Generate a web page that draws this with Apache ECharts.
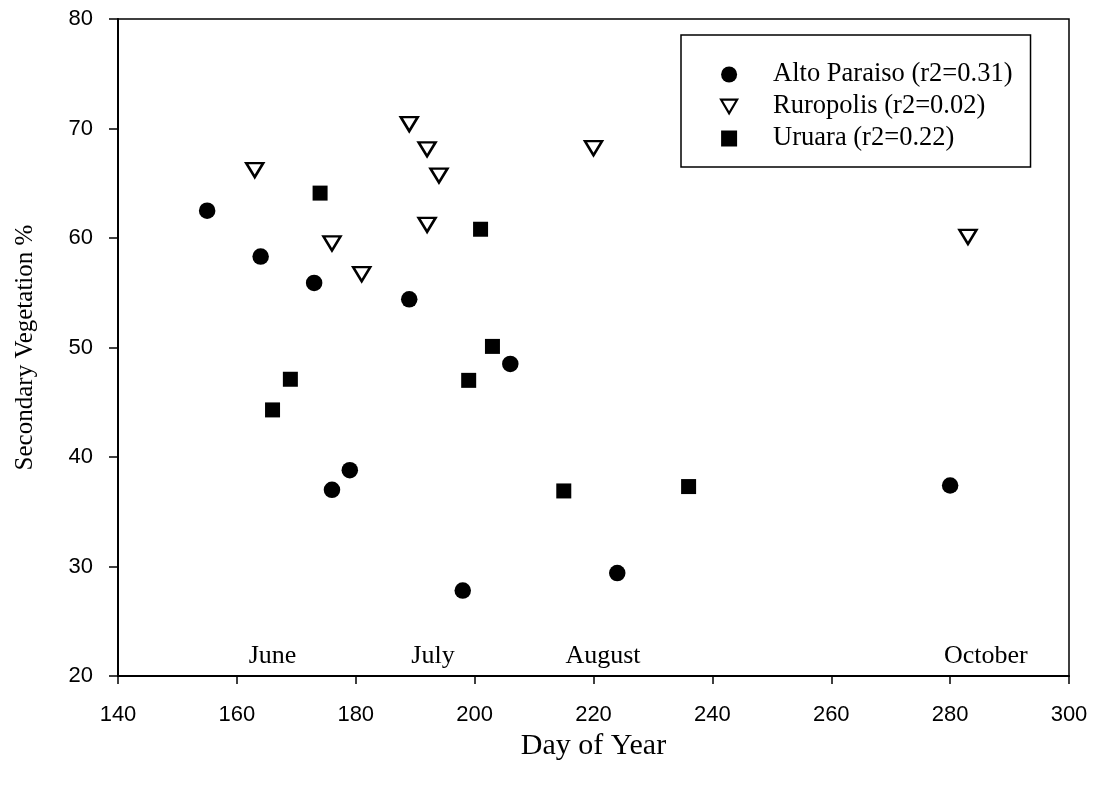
<!DOCTYPE html>
<html>
<head>
<meta charset="utf-8">
<script src="https://cdn.jsdelivr.net/npm/echarts@6/dist/echarts.min.js"></script>
<style>
html,body{margin:0;padding:0;background:#fff;}
#chart{width:1094px;height:788px;}
</style>
</head>
<body>
<div id="chart"></div>
<script>
// ---- data ----
var seriesNames = ['Alto Paraiso (r2=0.31)', 'Ruropolis (r2=0.02)', 'Uruara (r2=0.22)'];
var altoParaiso = [
  [155, 62.5], [164, 58.3], [173, 55.9], [176, 37.0], [179, 38.8],
  [189, 54.4], [198, 27.8], [206, 48.5], [224, 29.4], [280, 37.4]
];
var ruropolis = [
  [163, 66.2], [176, 59.5], [181, 56.7], [189, 70.4], [192, 68.1],
  [194, 65.7], [192, 61.2], [220, 68.2], [283, 60.1]
];
var uruara = [
  [166, 44.3], [169, 47.1], [174, 64.1], [199, 47.0], [201, 60.8],
  [203, 50.1], [215, 36.9], [236, 37.3]
];
var monthNames = ['June', 'July', 'August', 'October'];
var monthDays = [166, 193, 221.6, 286];
var monthLabelY = [21.8, 21.8, 21.8, 21.8];
var xTicks = {min: 140, max: 300, interval: 20};
var yTicks = {min: 20, max: 80, interval: 10};

var serif = '"Liberation Serif", "Times New Roman", serif';
var sans = '"Liberation Sans", Arial, sans-serif';

var monthData = monthNames.map(function (n, i) {
  return {name: n, value: [monthDays[i], monthLabelY[i]]};
});

var chart = echarts.init(document.getElementById('chart'), null, {renderer: 'canvas'});
chart.setOption({
  backgroundColor: '#fff',
  animation: false,
  grid: {
    left: 118, right: 25, top: 19, bottom: 112,
    show: true, borderColor: '#000', borderWidth: 1.5, backgroundColor: 'transparent'
  },
  legend: {
    data: [
      {name: seriesNames[0]},
      {name: seriesNames[1], icon: 'path://M0,0L20,0L10,17Z',
       itemStyle: {color: '#fff', borderColor: '#000', borderWidth: 2.2}},
      {name: seriesNames[2]}
    ],
    orient: 'vertical',
    left: 681, top: 35,
    padding: [26, 18, 15, 39],
    itemWidth: 16, itemHeight: 16, itemGap: 5,
    borderColor: '#000', borderWidth: 1.5,
    backgroundColor: '#fff',
    textStyle: {fontFamily: serif, fontSize: 26.5, color: '#000', lineHeight: 24, padding: [0, 0, 0, 31]},
    selectedMode: false
  },
  xAxis: {
    type: 'value', min: xTicks.min, max: xTicks.max, interval: xTicks.interval,
    name: 'Day of Year', nameLocation: 'middle', nameGap: 55,
    nameTextStyle: {fontFamily: serif, fontSize: 30, color: '#000'},
    axisLine: {lineStyle: {color: '#000', width: 2}},
    axisTick: {show: true, inside: false, length: 8, lineStyle: {color: '#000', width: 1.5}},
    axisLabel: {fontFamily: sans, fontSize: 22, color: '#000', margin: 28},
    splitLine: {show: false}
  },
  yAxis: {
    type: 'value', min: yTicks.min, max: yTicks.max, interval: yTicks.interval,
    name: 'Secondary Vegetation %', nameLocation: 'middle', nameGap: 80,
    nameTextStyle: {fontFamily: serif, fontSize: 25, color: '#000'},
    axisLine: {lineStyle: {color: '#000', width: 2}},
    axisTick: {show: true, inside: false, length: 9, lineStyle: {color: '#000', width: 1.5}},
    axisLabel: {fontFamily: sans, fontSize: 22, color: '#000', margin: 25},
    splitLine: {show: false}
  },
  series: [
    {
      name: seriesNames[0], type: 'scatter', data: altoParaiso,
      symbol: 'circle', symbolSize: 16.5,
      itemStyle: {color: '#000', opacity: 1}
    },
    {
      name: seriesNames[1], type: 'scatter', data: ruropolis,
      symbol: 'triangle', symbolRotate: 180, symbolSize: [17, 14],
      itemStyle: {color: '#fff', borderColor: '#000', borderWidth: 2.5, opacity: 1}
    },
    {
      name: seriesNames[2], type: 'scatter', data: uruara,
      symbol: 'rect', symbolSize: 15,
      itemStyle: {color: '#000', opacity: 1}
    },
    {
      name: 'months', type: 'scatter', data: monthData,
      symbolSize: 0, silent: true,
      itemStyle: {color: '#000', opacity: 1},
      label: {
        show: true, position: 'inside', formatter: '{b}',
        fontFamily: serif, fontSize: 26, color: '#000'
      }
    }
  ]
});
</script>
</body>
</html>
